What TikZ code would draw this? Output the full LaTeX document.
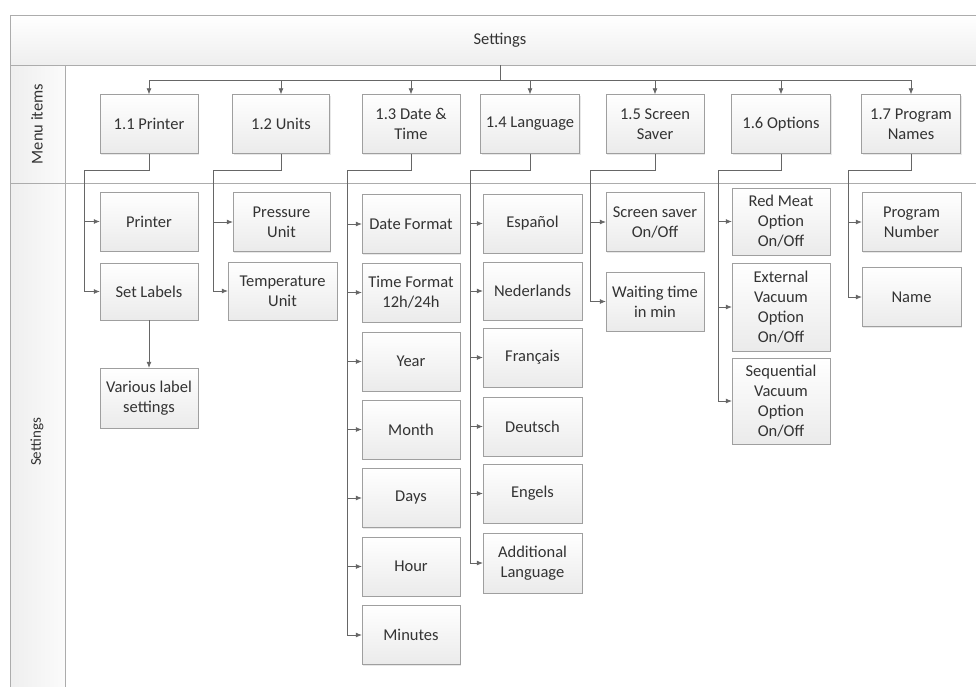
\documentclass[tikz,border=0pt]{standalone}
\usepackage{fontspec}
\setmainfont{Carlito}
\usetikzlibrary{arrows.meta,shadows}
\begin{document}
\begin{tikzpicture}[x=1pt,y=-1pt]
\tikzstyle{box}=[draw=gray!75,top color=white,bottom color=gray!16,minimum width=98pt,minimum height=59pt,inner sep=1.5pt,align=center,text=black!80,font=\fontsize{16.5}{20}\selectfont,drop shadow={shadow xshift=1pt,shadow yshift=-1pt,opacity=0.18}]
\tikzstyle{lane}=[draw=gray!65,line width=0.7pt]
\tikzstyle{wire}=[draw=black!60,line width=0.7pt]
\tikzstyle{arr}=[wire,-{Latex[length=6pt,width=5pt]}]
\useasboundingbox (0,0) rectangle (976,686);
\clip (0,0) rectangle (976,686);
% swimlane frame
\path[lane,top color=white,bottom color=gray!13] (10,15) rectangle (990,65);
\path[lane,left color=gray!13,right color=gray!3] (10,65) rectangle (65,700);
\draw[lane] (65,65) -- (990,65);
\draw[lane] (10,183) -- (990,183);
\node[text=black!80,font=\fontsize{16.5}{20}\selectfont] (title) at (500,40) {Settings};
\node[rotate=90,text=black!80,font=\fontsize{16.5}{20}\selectfont] (lmenu) at (37,124) {Menu items};
\node[rotate=90,text=black!80,font=\fontsize{15}{18}\selectfont] (lsett) at (37,442) {Settings};

% menu items
\path (149,124) node[box](m1){1.1 Printer}
      (281,124) node[box,minimum width=97pt](m2){1.2 Units}
      (411,124) node[box](m3){1.3 Date \&\\Time}
      (530,124) node[box,minimum width=99pt](m4){1.4 Language}
      (655,124) node[box](m5){1.5 Screen\\Saver}
      (781,124) node[box,minimum width=99pt](m6){1.6 Options}
      (911,124) node[box,minimum width=99pt](m7){1.7 Program\\Names};
\coordinate (bus) at (500,80);
\draw[wire] (500,65) -- (bus);
\draw[arr] (bus) -| (m1.north);
\draw[arr] (bus) -| (m2.north);
\draw[arr] (bus) -| (m3.north);
\draw[arr] (bus) -| (m4.north);
\draw[arr] (bus) -| (m5.north);
\draw[arr] (bus) -| (m6.north);
\draw[arr] (bus) -| (m7.north);

% 1.1 printer
\path (149,221.5) node[box](p1){Printer}
      (149,291.5) node[box,minimum height=57pt](p2){Set Labels}
      (149,398) node[box,minimum height=60pt](p3){Various label\\settings};
\coordinate (t1) at (84,170);
\draw[wire] (m1.south) |- (t1);
\draw[arr] (t1) |- (p1.west);
\draw[arr] (t1) |- (p2.west);
\draw[arr] (p2) -- (p3);

% 1.2 units
\path (281.5,222) node[box,minimum width=97pt](u1){Pressure\\Unit}
      (282.5,291) node[box,minimum width=109pt,minimum height=58pt](u2){Temperature\\Unit};
\coordinate (t2) at (213,170);
\draw[wire] (m2.south) |- (t2);
\draw[arr] (t2) |- (u1.west);
\draw[arr] (t2) |- (u2.west);

% 1.3 date & time
\path (411,224) node[box](d1){Date Format}
      (411,292.5) node[box](d2){Time Format\\12h/24h}
      (411,361.5) node[box](d3){Year}
      (411,429.5) node[box](d4){Month}
      (411,498) node[box](d5){Days}
      (411,566.5) node[box](d6){Hour}
      (411,635) node[box](d7){Minutes};
\coordinate (t3) at (347,170);
\draw[wire] (m3.south) |- (t3);
\draw[arr] (t3) |- (d1.west);
\draw[arr] (t3) |- (d2.west);
\draw[arr] (t3) |- (d3.west);
\draw[arr] (t3) |- (d4.west);
\draw[arr] (t3) |- (d5.west);
\draw[arr] (t3) |- (d6.west);
\draw[arr] (t3) |- (d7.west);

% 1.4 language
\path (532.5,223.5) node[box,minimum width=99pt](l1){Español}
      (532.5,291) node[box,minimum width=99pt,minimum height=58pt](l2){Nederlands}
      (532.5,357.5) node[box,minimum width=99pt](l3){Français}
      (532.5,426.5) node[box,minimum width=99pt](l4){Deutsch}
      (532.5,493.5) node[box,minimum width=99pt](l5){Engels}
      (532.5,563) node[box,minimum width=99pt,minimum height=60pt](l6){Additional\\Language};
\coordinate (t4) at (470,170);
\draw[wire] (m4.south) |- (t4);
\draw[arr] (t4) |- (l1.west);
\draw[arr] (t4) |- (l2.west);
\draw[arr] (t4) |- (l3.west);
\draw[arr] (t4) |- (l4.west);
\draw[arr] (t4) |- (l5.west);
\draw[arr] (t4) |- (l6.west);

% 1.5 screen saver
\path (655,222) node[box](s1){Screen saver\\On/Off}
      (655,301.5) node[box](s2){Waiting time\\in min};
\coordinate (t5) at (590,170);
\draw[wire] (m5.south) |- (t5);
\draw[arr] (t5) |- (s1.west);
\draw[arr] (t5) |- (s2.west);

% 1.6 options
\path (781,221.5) node[box,minimum height=67pt](o1){Red Meat\\Option\\On/Off}
      (781,307) node[box,minimum height=88pt](o2){External\\Vacuum\\Option\\On/Off}
      (781,401) node[box,minimum height=86pt](o3){Sequential\\Vacuum\\Option\\On/Off};
\coordinate (t6) at (718,170);
\draw[wire] (m6.south) |- (t6);
\draw[arr] (t6) |- (o1.west);
\draw[arr] (t6) |- (o2.west);
\draw[arr] (t6) |- (o3.west);

% 1.7 program names
\path (911.5,222) node[box,minimum width=99pt](n1){Program\\Number}
      (911.5,297) node[box,minimum width=99pt](n2){Name};
\coordinate (t7) at (848,170);
\draw[wire] (m7.south) |- (t7);
\draw[arr] (t7) |- (n1.west);
\draw[arr] (t7) |- (n2.west);
\end{tikzpicture}
\end{document}
